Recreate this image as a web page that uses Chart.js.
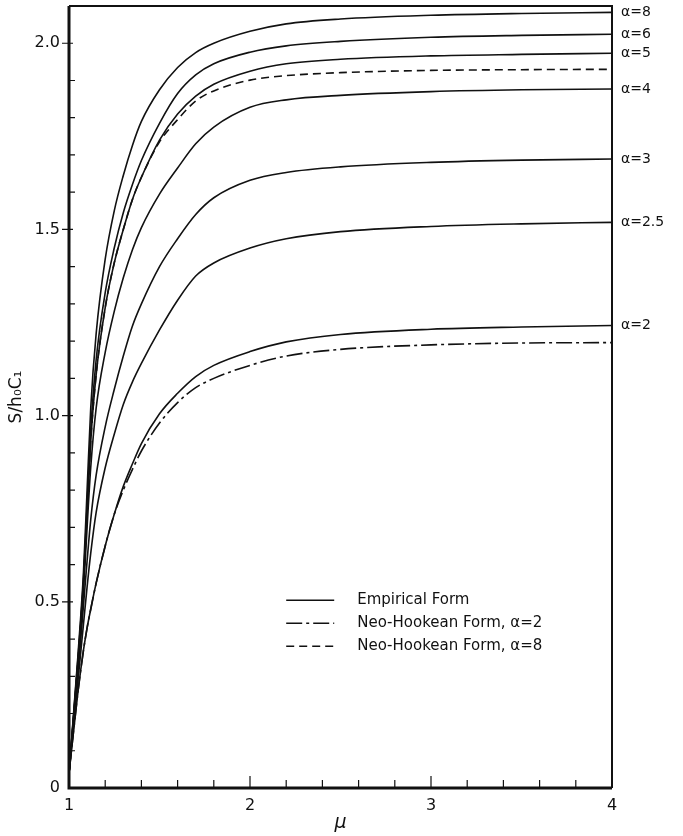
<!DOCTYPE html>
<html>
<head>
<meta charset="utf-8">
<script src="https://cdn.jsdelivr.net/npm/chart.js@4.4.1/dist/chart.umd.min.js"></script>
<style>
  html, body { margin: 0; padding: 0; background: #fff; }
  canvas { display: block; }
</style>
</head>
<body>
<canvas id="chart" width="683" height="836"></canvas>
<script>
'use strict';

var mu = [1.0, 1.05, 1.08, 1.1, 1.12, 1.15, 1.2, 1.25, 1.3, 1.35, 1.4, 1.5, 1.6, 1.7, 1.8, 2.0, 2.2, 2.5, 3.0, 3.5, 4.0];

// S/h0C1, empirical form
var alpha8  = [0.04, 0.36, 0.58, 0.80, 1.02, 1.22, 1.42, 1.55, 1.645, 1.725, 1.79, 1.875, 1.935, 1.975, 2.000, 2.032, 2.052, 2.065, 2.075, 2.080, 2.083];
var alpha6  = [0.04, 0.35, 0.56, 0.76, 0.96, 1.15, 1.33, 1.45, 1.545, 1.62, 1.685, 1.785, 1.865, 1.915, 1.945, 1.976, 1.993, 2.005, 2.016, 2.021, 2.024];
var alpha5  = [0.04, 0.34, 0.55, 0.74, 0.93, 1.11, 1.29, 1.41, 1.50, 1.58, 1.64, 1.74, 1.81, 1.858, 1.89, 1.925, 1.945, 1.957, 1.966, 1.970, 1.973];
var alpha4  = [0.04, 0.33, 0.53, 0.70, 0.86, 1.02, 1.17, 1.28, 1.37, 1.445, 1.505, 1.595, 1.665, 1.73, 1.775, 1.828, 1.848, 1.860, 1.870, 1.875, 1.877];
var alpha3  = [0.04, 0.31, 0.49, 0.61, 0.72, 0.84, 0.97, 1.07, 1.16, 1.24, 1.30, 1.40, 1.475, 1.54, 1.585, 1.632, 1.653, 1.668, 1.680, 1.686, 1.689];
var alpha25 = [0.04, 0.29, 0.44, 0.54, 0.63, 0.74, 0.86, 0.95, 1.03, 1.09, 1.14, 1.23, 1.31, 1.375, 1.41, 1.450, 1.475, 1.494, 1.508, 1.515, 1.519];
var alpha2  = [0.04, 0.26, 0.37, 0.43, 0.48, 0.55, 0.65, 0.735, 0.81, 0.87, 0.925, 1.005, 1.06, 1.105, 1.135, 1.172, 1.198, 1.218, 1.232, 1.238, 1.242];

// neo-Hookean form
var neoAlpha8 = [0.04, 0.34, 0.55, 0.74, 0.93, 1.11, 1.29, 1.41, 1.50, 1.58, 1.64, 1.735, 1.795, 1.845, 1.872, 1.901, 1.913, 1.921, 1.927, 1.929, 1.930];
var neoAlpha2 = [0.04, 0.26, 0.37, 0.43, 0.48, 0.55, 0.65, 0.735, 0.80, 0.855, 0.905, 0.98, 1.035, 1.075, 1.10, 1.135, 1.160, 1.178, 1.190, 1.195, 1.196];

var empiricalSeries = [alpha8, alpha6, alpha5, alpha4, alpha3, alpha25, alpha2];
var empiricalLabels = ['α=8', 'α=6', 'α=5', 'α=4', 'α=3', 'α=2.5', 'α=2'];

var legendLabels = ['Empirical Form', 'Neo-Hookean Form, α=2', 'Neo-Hookean Form, α=8'];

var xTickLabels = [1, 2, 3, 4];
var xMinorTicks = [1.2, 1.4, 1.6, 1.8, 2.2, 2.4, 2.6, 2.8, 3.2, 3.4, 3.6, 3.8];
var xMajorTicks = [2, 3];
var yTickLabels = [0, 0.5, 1.0, 1.5, 2.0];
var yMinorTicks = [0.1, 0.2, 0.3, 0.4, 0.6, 0.7, 0.8, 0.9, 1.1, 1.2, 1.3, 1.4, 1.6, 1.7, 1.8, 1.9];

var FONT = '"DejaVu Sans", "Liberation Sans", sans-serif';
var INK = '#111';

var dashed = [8, 5];
var dashDot = [16, 4, 3, 4];

function points(values) {
  return mu.map(function (m, i) { return { x: m, y: values[i] }; });
}

function line(values, dash, label) {
  return {
    label: label,
    data: points(values),
    borderColor: INK,
    borderWidth: 1.6,
    borderDash: dash || [],
    pointRadius: 0,
    fill: false,
    cubicInterpolationMode: 'monotone'
  };
}

var datasets = empiricalSeries.map(function (s, i) { return line(s, null, empiricalLabels[i]); });
datasets.push(line(neoAlpha8, dashed, legendLabels[2]));
datasets.push(line(neoAlpha2, dashDot, legendLabels[1]));

// inward ticks, the heavy frame, curve names on the right and the key
var decorations = {
  id: 'decorations',
  afterDatasetsDraw: function (chart) {
    var ctx = chart.ctx, ca = chart.chartArea;
    var xs = chart.scales.x, ys = chart.scales.y;
    ctx.save();
    ctx.strokeStyle = INK;
    ctx.lineCap = 'butt';

    // frame
    ctx.lineWidth = 2;
    ctx.beginPath();
    ctx.moveTo(ca.left, ca.top); ctx.lineTo(ca.right, ca.top); ctx.lineTo(ca.right, ca.bottom);
    ctx.stroke();
    ctx.lineWidth = 3;
    ctx.beginPath();
    ctx.moveTo(ca.left, ca.top); ctx.lineTo(ca.left, ca.bottom); ctx.lineTo(ca.right, ca.bottom);
    ctx.stroke();

    // x ticks
    ctx.lineWidth = 1.2;
    ctx.beginPath();
    xMinorTicks.forEach(function (v) {
      var px = xs.getPixelForValue(v);
      ctx.moveTo(px, ca.bottom); ctx.lineTo(px, ca.bottom - 8);
    });
    xMajorTicks.forEach(function (v) {
      var px = xs.getPixelForValue(v);
      ctx.moveTo(px, ca.bottom); ctx.lineTo(px, ca.bottom - 12);
    });
    // y ticks
    yMinorTicks.forEach(function (v) {
      var py = ys.getPixelForValue(v);
      ctx.moveTo(ca.left, py); ctx.lineTo(ca.left + 6, py);
    });
    yTickLabels.forEach(function (v) {
      if (v === 0) return;
      var py = ys.getPixelForValue(v);
      ctx.moveTo(ca.left - 7, py); ctx.lineTo(ca.left + 4, py);
    });
    ctx.stroke();

    // alpha labels at the curve ends
    ctx.fillStyle = INK;
    ctx.font = '14px ' + FONT;
    ctx.textAlign = 'left';
    ctx.textBaseline = 'middle';
    empiricalSeries.forEach(function (s, i) {
      var py = ys.getPixelForValue(s[s.length - 1]);
      ctx.fillText(empiricalLabels[i], ca.right + 9, py);
    });

    // key
    var dashes = [[], dashDot, dashed];
    var keyX = xs.getPixelForValue(2.2), keyY = ys.getPixelForValue(0.504);
    ctx.font = '15px ' + FONT;
    legendLabels.forEach(function (t, i) {
      var py = keyY + i * 23;
      ctx.lineWidth = 1.6;
      ctx.setLineDash(dashes[i]);
      ctx.beginPath();
      ctx.moveTo(keyX, py); ctx.lineTo(keyX + 48, py);
      ctx.stroke();
      ctx.setLineDash([]);
      ctx.fillText(t, keyX + 71, py);
    });
    ctx.restore();
  }
};

new Chart(document.getElementById('chart'), {
  type: 'line',
  data: { datasets: datasets },
  plugins: [decorations],
  options: {
    responsive: false,
    animation: false,
    devicePixelRatio: 1,
    layout: { padding: { left: 0, right: 71, top: 6, bottom: 0 } },
    plugins: { legend: { display: false }, tooltip: { enabled: false } },
    scales: {
      x: {
        type: 'linear',
        min: 1,
        max: 4,
        afterFit: function (scale) {
          scale.height = 48;
          scale.paddingLeft = 0;
          scale.paddingRight = 0;
        },
        afterBuildTicks: function (scale) {
          scale.ticks = xTickLabels.map(function (v) { return { value: v }; });
        },
        grid: { display: false, drawTicks: false },
        border: { display: false },
        ticks: {
          padding: 8,
          color: INK,
          font: { family: FONT, size: 16 },
          maxRotation: 0,
          callback: function (v) { return String(v); }
        },
        title: {
          display: true,
          text: 'μ',
          color: INK,
          padding: { top: 0, bottom: 2 },
          font: { family: FONT, size: 19, style: 'italic' }
        }
      },
      y: {
        type: 'linear',
        min: 0,
        max: 2.1,
        afterFit: function (scale) {
          scale.width = 69;
          scale.paddingTop = 0;
          scale.paddingBottom = 0;
        },
        afterBuildTicks: function (scale) {
          scale.ticks = yTickLabels.map(function (v) { return { value: v }; });
        },
        grid: { display: false, drawTicks: false },
        border: { display: false },
        ticks: {
          padding: 9,
          color: INK,
          font: { family: FONT, size: 16 },
          callback: function (v) { return v === 0 ? '0' : v.toFixed(1); }
        },
        title: {
          display: true,
          text: 'S/h₀C₁',
          color: INK,
          padding: { top: 6, bottom: 0 },
          font: { family: FONT, size: 17 }
        }
      }
    }
  }
});
</script>
</body>
</html>
